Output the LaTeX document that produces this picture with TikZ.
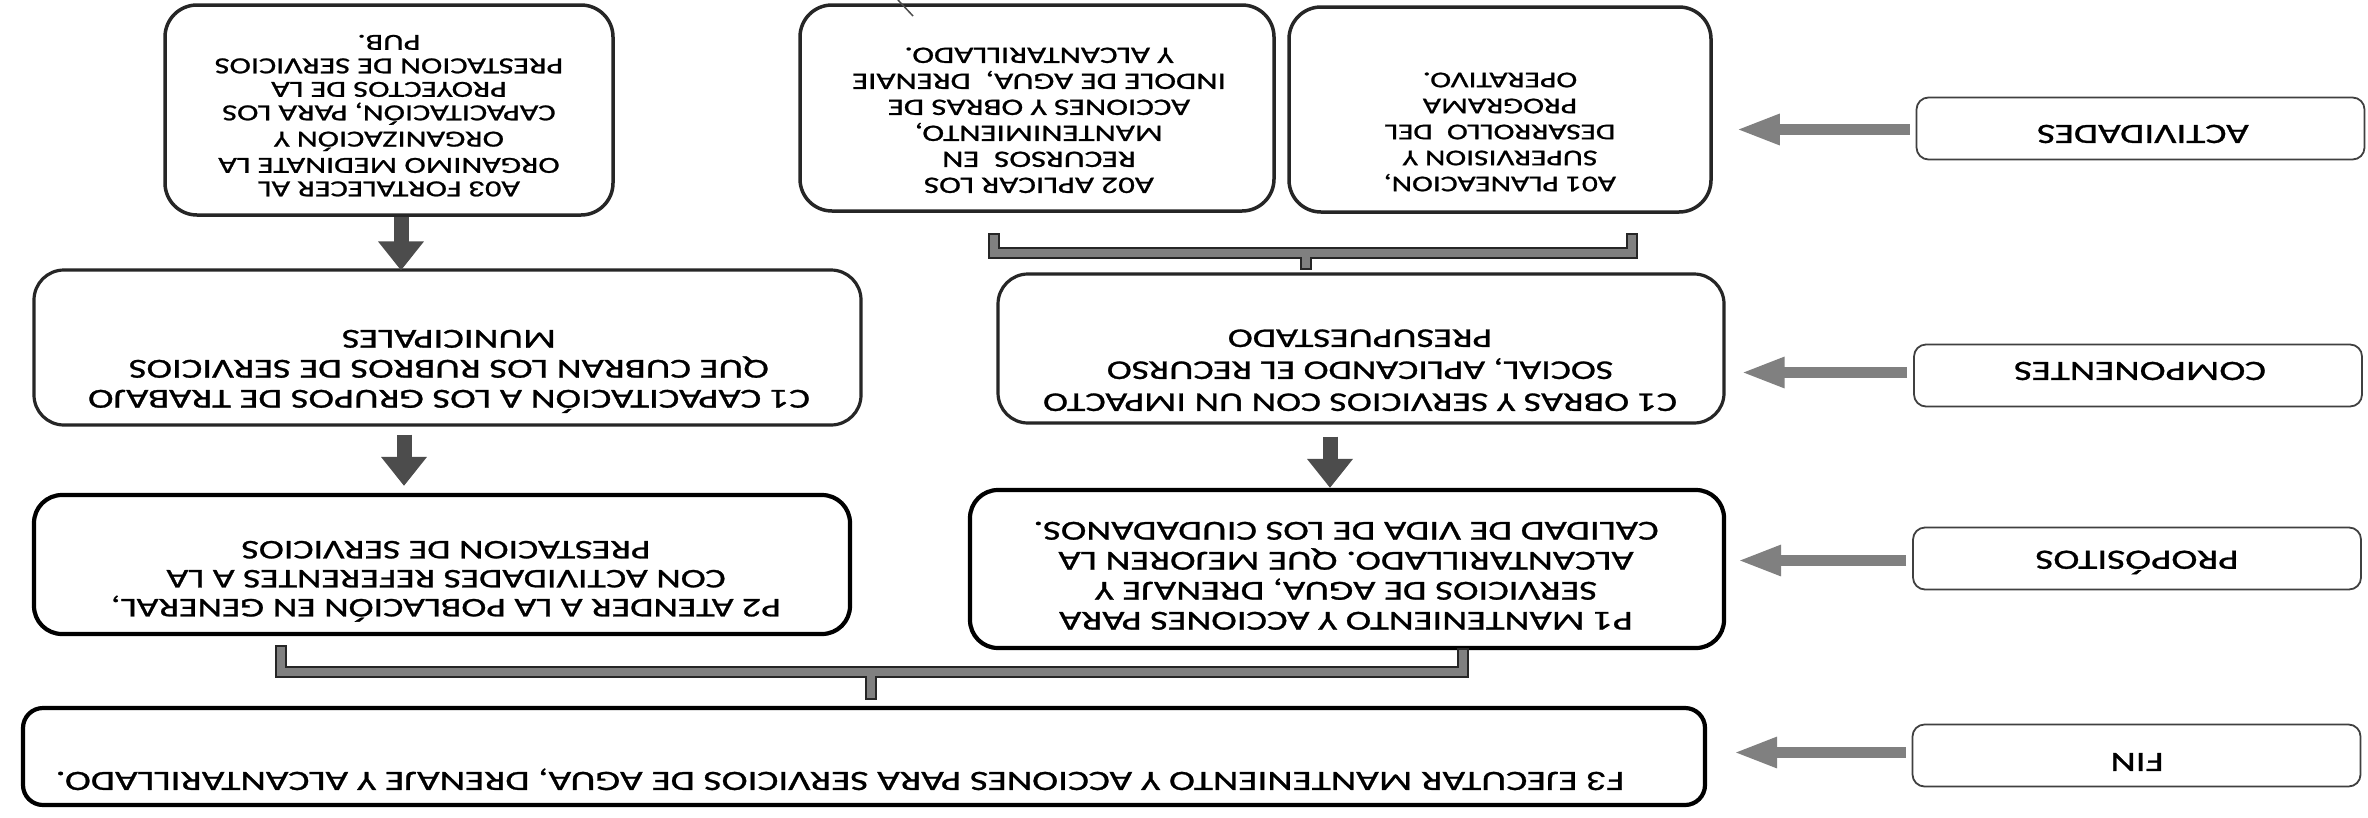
\documentclass[tikz,border=0pt]{standalone}
\usepackage{fontspec}
\setmainfont{Carlito}[FakeStretch=1.4,FakeBold=1]
\usepackage{graphicx}
\usetikzlibrary{arrows.meta,calc}
\newcommand\fliptext[1]{\rotatebox{180}{\begin{tabular}{@{}c@{}}#1\end{tabular}}}
\begin{document}
\begin{tikzpicture}[x=1pt,y=-1pt,
  abox/.style={draw=black!85, line width=3.5pt, rounded corners=32pt, inner sep=0pt},
  cbox/.style={draw=black!85, line width=3.2pt, rounded corners=30pt, inner sep=0pt},
  pbox/.style={draw=black, line width=4.2pt, rounded corners=28pt, inner sep=0pt},
  fbox/.style={draw=black, line width=4.2pt, rounded corners=20pt, inner sep=0pt},
  lbox/.style={draw=black!75, line width=1.8pt, rounded corners=12pt, inner sep=0pt, minimum width=448pt, minimum height=62pt},
  txt/.style={inner sep=0pt, text=black},
  darrow/.style={line width=15pt, draw=black!70, -{Triangle[width=44pt,length=29pt]}},
  larrow/.style={line width=11pt, draw=black!50, -{Triangle[width=28pt,length=44pt]}},
  brk/.style={draw=black!85, line width=2pt, double=black!50, double distance=8pt, line cap=rect, line join=miter}]
\fill[white] (0,0) rectangle (2368,817);
\useasboundingbox (0,0) rectangle (2368,817);

% boxes
\node[abox, minimum width=448pt, minimum height=210pt] (a03) at (389,110) {};
\node[abox, minimum width=474pt, minimum height=206pt] (a02) at (1037,108) {};
\node[abox, minimum width=422pt, minimum height=205pt] (a01) at (1500,109.5) {};
\node[cbox, minimum width=827pt, minimum height=155pt] (c1l) at (447.5,347.5) {};
\node[cbox, minimum width=726pt, minimum height=149pt] (c1r) at (1361,348.5) {};
\node[pbox, minimum width=816pt, minimum height=139pt] (p2) at (442,564.5) {};
\node[pbox, minimum width=754pt, minimum height=158pt] (p1) at (1347,569) {};
\node[fbox, minimum width=1682pt, minimum height=97pt] (f3) at (864,756.5) {};
\node[lbox] (act) at (2140.5,128.5) {};
\node[lbox] (comp) at (2138,375.5) {};
\node[lbox] (prop) at (2137,558.5) {};
\node[lbox] (fin) at (2136.5,755.5) {};

% texts
\node[txt, font=\fontsize{23}{23.5}\selectfont] (ta03) at (389,113) {\fliptext{A03 FORTALECER AL\\ORGANIMO MEDINATE LA\\ORGANIZACIÓN Y\\CAPACITACIÓN, PARA LOS\\PROYECTOS DE LA\\PRESTACION DE SERVICIOS\\PUB.}};
\node[txt, font=\fontsize{23.5}{26}\selectfont] (ta02) at (1039,118) {\fliptext{A02 APLICAR LOS\\RECURSOS\ \ EN\\MANTENIMIENTO,\\ACCIONES Y OBRAS DE\\INDOLE DE AGUA,\ \ DRENAIE\\Y ALCANTARILLADO.}};
\node[txt, font=\fontsize{22.5}{26}\selectfont] (ta01) at (1500,130) {\fliptext{A01 PLANEACION,\\SUPERVISION Y\\DESARROLLO\ \ DEL\\PROGRAMA\\OPERATIVO.}};
\node[txt, font=\fontsize{27.5}{30}\selectfont] (tc1l) at (449,367) {\fliptext{C1 CAPACITACIÓN A LOS GRUPOS DE TRABAJO\\QUE CUBRAN LOS RUBROS DE SERVICIOS\\MUNICIPALES}};
\node[txt, font=\fontsize{27}{32}\selectfont] (tc1r) at (1360,368) {\fliptext{C1 OBRAS Y SERVICIOS CON UN IMPACTO\\SOCIAL, APLICANDO EL RECURSO\\PRESUPUESTADO}};
\node[txt, font=\fontsize{27}{29}\selectfont] (tp2) at (446,577) {\fliptext{P2 ATENDER A LA POBLACIÓN EN GENERAL,\\CON ACTIVIDADES REFERENTES A LA\\PRESTACION DE SERVICIOS}};
\node[txt, font=\fontsize{27.5}{30}\selectfont] (tp1) at (1346,573) {\fliptext{P1 MANTENIENTO Y ACCIONES PARA\\SERVICIOS DE AGUA, DRENAJE Y\\ALCANTARILLADO. QUE MEJOREN LA\\CALIDAD DE VIDA DE LOS CIUDADANOS.}};
\node[txt, font=\fontsize{28}{30}\selectfont] (tf3) at (840,778) {\fliptext{F3 EJECUTAR MANTENIENTO Y ACCIONES PARA SERVICIOS DE AGUA, DRENAJE Y ALCANTARILLADO.}};
\node[txt, font=\fontsize{28}{30}\selectfont] (tact) at (2143,131) {\fliptext{ACTIVIDADES}};
\node[txt, font=\fontsize{28}{30}\selectfont] (tcomp) at (2140,368) {\fliptext{COMPONENTES}};
\node[txt, font=\fontsize{28}{30}\selectfont] (tprop) at (2137,558) {\fliptext{PROPÓSITOS}};
\node[txt, font=\fontsize{28}{30}\selectfont] (tfin) at (2137,759) {\fliptext{FIN}};

% down arrows
\draw[darrow] ($(a03.south)+(12,0)$) -- ($(c1l.north -| a03.south)+(12,2)$);
\draw[darrow] ($(c1l.south)+(-43.5,8)$) -- ($(p2.north -| c1l.south)+(-43.5,-7)$);
\draw[darrow] ($(c1r.south)+(-31,12)$) -- ($(p1.north -| c1r.south)+(-31,0)$);

% left arrows from level labels
\draw[larrow] ($(act.west)+(-6,1)$) -- ($(a01.east |- act.west)+(23,1)$);
\draw[larrow] ($(comp.west)+(-6,-3)$) -- ($(c1r.east |- comp.west)+(15,-3)$);
\draw[larrow] ($(prop.west)+(-6,2)$) -- ($(p1.east |- prop.west)+(11,2)$);
\draw[larrow] ($(fin.west)+(-6,-3)$) -- ($(f3.east |- fin.west)+(26,-3)$);

% brackets
\coordinate (tbl) at (994,239);
\coordinate (tbr) at (1632,239);
\coordinate (tbm) at (1306,252.5);
\draw[brk] (tbl) |- (tbm) -| (tbr) (tbm) -- ($(c1r.north -| tbm)+(0,-8)$);
\coordinate (bbl) at (281,651);
\coordinate (bbr) at (1463,654);
\coordinate (bbm) at (871,672);
\draw[brk] (bbl) |- (bbm) -| (bbr) (bbm) -- ($(f3.north -| bbm)+(0,-12)$);

% stray mark
\draw[line width=1.5pt, black!70] (898,0) -- (913,16);
\end{tikzpicture}
\end{document}
